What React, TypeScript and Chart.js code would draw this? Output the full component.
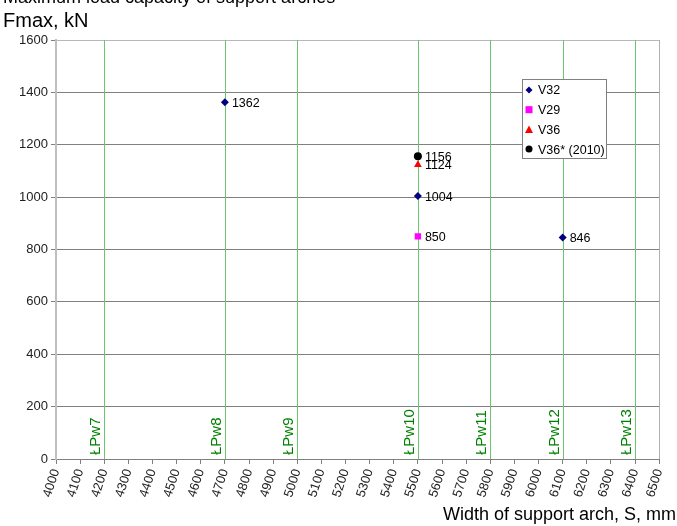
import React, { useEffect, useRef } from "react";
import { Chart, registerables } from "chart.js";

Chart.register(...registerables);

const FONT = "'Liberation Sans', Arial, sans-serif";

const v32X = [4700, 5500, 6100];
const v32Y = [1362, 1004, 846];
const v29X = [5500];
const v29Y = [850];
const v36X = [5500];
const v36Y = [1124];
const v36sX = [5500];
const v36sY = [1156];

const pwPositions = [4200, 4700, 5000, 5500, 5800, 6100, 6400];
const pwLabels = ["ŁPw7", "ŁPw8", "ŁPw9", "ŁPw10", "ŁPw11", "ŁPw12", "ŁPw13"];

const titleText = "Maximum load capacity of support arches";
const yTitle = "Fmax, kN";
const xTitle = "Width of support arch, S, mm";

const mk = (xs: number[], ys: number[]) => xs.map((x, i) => ({ x, y: ys[i] }));

const overlayPlugin = {
  id: "overlay",
  beforeDatasetsDraw(chart: any) {
    const { ctx, chartArea, scales } = chart;
    const xs = scales.x;
    ctx.save();
    ctx.strokeStyle = "#6cc46c";
    ctx.lineWidth = 1;
    pwPositions.forEach((v, i) => {
      const px = Math.round(xs.getPixelForValue(v)) + 0.5;
      ctx.beginPath();
      ctx.moveTo(px, chartArea.top);
      ctx.lineTo(px, chartArea.bottom);
      ctx.stroke();
      ctx.save();
      ctx.translate(px - 9, chartArea.bottom - 4);
      ctx.rotate(-Math.PI / 2);
      ctx.fillStyle = "#008000";
      ctx.font = `15px ${FONT}`;
      ctx.textAlign = "left";
      ctx.textBaseline = "middle";
      ctx.fillText(pwLabels[i], 0, 0);
      ctx.restore();
    });
    ctx.restore();
  },
  afterDatasetsDraw(chart: any) {
    const { ctx } = chart;
    ctx.save();
    ctx.font = `12.5px ${FONT}`;
    ctx.fillStyle = "#000";
    ctx.textAlign = "left";
    ctx.textBaseline = "middle";
    chart.data.datasets.forEach((ds: any, di: number) => {
      const meta = chart.getDatasetMeta(di);
      meta.data.forEach((el: any, i: number) => {
        ctx.fillText(String(ds.data[i].y), el.x + 7, el.y + 1);
      });
    });
    ctx.restore();
  },
  afterDraw(chart: any) {
    const { ctx } = chart;
    ctx.save();
    ctx.fillStyle = "#000";
    ctx.textBaseline = "alphabetic";
    ctx.textAlign = "left";
    ctx.font = `18px ${FONT}`;
    ctx.fillText(titleText, 3, 3);
    ctx.font = `20px ${FONT}`;
    ctx.fillText(yTitle, 3, 27);
    ctx.font = `18px ${FONT}`;
    ctx.textAlign = "right";
    ctx.fillText(xTitle, 676, 520);

    // legend
    const lx = 522, ly = 79, lw = 84, lh = 79;
    ctx.fillStyle = "#fff";
    ctx.fillRect(lx, ly, lw, lh);
    ctx.strokeStyle = "#808080";
    ctx.lineWidth = 1;
    ctx.strokeRect(lx + 0.5, ly + 0.5, lw, lh);
    ctx.font = `12.5px ${FONT}`;
    ctx.textAlign = "left";
    ctx.textBaseline = "middle";
    chart.data.datasets.forEach((ds: any, i: number) => {
      const cy = ly + 11 + i * 19.7;
      const cx = lx + 7;
      ctx.fillStyle = ds.backgroundColor;
      ctx.beginPath();
      const r = 3.5;
      if (ds.pointStyle === "rectRot") {
        ctx.moveTo(cx, cy - r);
        ctx.lineTo(cx + r, cy);
        ctx.lineTo(cx, cy + r);
        ctx.lineTo(cx - r, cy);
        ctx.closePath();
      } else if (ds.pointStyle === "rect") {
        ctx.rect(cx - 3.5, cy - 3.5, 7, 7);
      } else if (ds.pointStyle === "triangle") {
        ctx.moveTo(cx, cy - 4);
        ctx.lineTo(cx + 4, cy + 3.5);
        ctx.lineTo(cx - 4, cy + 3.5);
        ctx.closePath();
      } else {
        ctx.arc(cx, cy, 3.5, 0, Math.PI * 2);
      }
      ctx.fill();
      ctx.fillStyle = "#000";
      ctx.fillText(ds.label, lx + 16, cy + 1);
    });
    ctx.restore();
  },
};

export default function App() {
  const ref = useRef<HTMLCanvasElement | null>(null);
  useEffect(() => {
    if (!ref.current) return;
    const chart = new Chart(ref.current, {
      type: "scatter",
      data: {
        datasets: [
          { label: "V32", data: mk(v32X, v32Y), pointStyle: "rectRot", radius: 4, backgroundColor: "#000080", borderColor: "#000080", borderWidth: 0 },
          { label: "V29", data: mk(v29X, v29Y), pointStyle: "rect", radius: 4.5, backgroundColor: "#ff00ff", borderColor: "#ff00ff", borderWidth: 0 },
          { label: "V36", data: mk(v36X, v36Y), pointStyle: "triangle", radius: 4.5, backgroundColor: "#ff0000", borderColor: "#ff0000", borderWidth: 0 },
          { label: "V36* (2010)", data: mk(v36sX, v36sY), pointStyle: "circle", radius: 4, backgroundColor: "#000000", borderColor: "#000000", borderWidth: 0 },
        ] as any,
      },
      options: {
        animation: false,
        responsive: false,
        maintainAspectRatio: false,
        layout: { padding: { left: 0, top: 40, right: 16, bottom: 0 } },
        plugins: { legend: { display: false }, tooltip: { enabled: false }, title: { display: false } },
        scales: {
          x: {
            type: "linear",
            min: 4000,
            max: 6500,
            afterFit: (s: any) => { s.height = 67; },
            ticks: {
              stepSize: 100,
              autoSkip: false,
              minRotation: 72,
              maxRotation: 72,
              color: "#222",
              font: { family: FONT, size: 13 },
              padding: 3,
              callback: (v: any) => String(v),
            },
            grid: {
              color: (c: any) => (c.tick && c.tick.value === 6500 ? "#b0b0b0" : "rgba(0,0,0,0)"),
              tickColor: "#808080",
              tickLength: 5,
              drawTicks: true,
            },
            border: { color: "#808080", width: 1 },
          },
          y: {
            min: 0,
            max: 1600,
            afterFit: (s: any) => { s.width = 56; },
            ticks: {
              stepSize: 200,
              color: "#222",
              font: { family: FONT, size: 13 },
              padding: 3,
              callback: (v: any) => String(v),
            },
            grid: {
              color: (c: any) => (c.tick && c.tick.value === 1600 ? "#b8b8b8" : "#808080"),
              tickColor: "#808080",
              tickLength: 5,
            },
            border: { color: "#c0c0c0", width: 2 },
          },
        },
      },
      plugins: [overlayPlugin],
    } as any);
    return () => chart.destroy();
  }, []);
  return (
    <div style={{ position: "fixed", left: 0, top: 0, width: 677, height: 526, background: "#fff" }}>
      <canvas ref={ref} width={677} height={526} style={{ width: 677, height: 526 }} />
    </div>
  );
}
